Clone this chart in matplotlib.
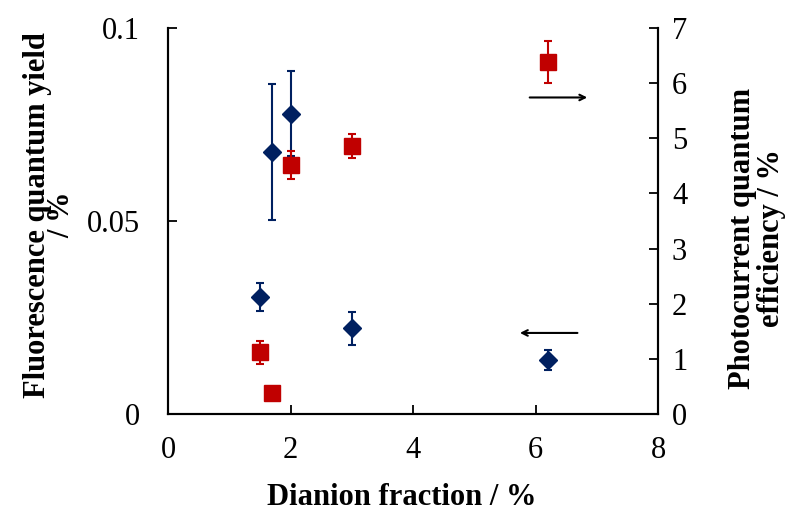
import matplotlib.pyplot as plt

plt.rcParams['font.family'] = ['Liberation Serif', 'DejaVu Serif']

# dianion fraction / %
frac = [1.5, 1.7, 2.0, 3.0, 6.2]

# fluorescence quantum yield (left axis)
fqy = [0.0303, 0.0679, 0.0778, 0.0222, 0.0140]
fqy_err = [0.0036, 0.0176, 0.0110, 0.0043, 0.0026]

# photocurrent quantum efficiency (right axis)
pqe = [1.12, 0.38, 4.52, 4.86, 6.38]
pqe_err = [0.21, 0.0, 0.25, 0.22, 0.38]

navy = '#002060'
red = '#C00000'

fig = plt.figure(figsize=(7.9, 5.16), dpi=100)
ax = fig.add_axes([168 / 790, 1 - 414 / 516, 490 / 790, 386 / 516])
ax2 = ax.twinx()

ax.errorbar(frac, fqy, yerr=fqy_err, fmt='D', color=navy, ms=9.5,
            elinewidth=1.5, capsize=3, capthick=1.5, zorder=3)
ax2.errorbar(frac, pqe, yerr=pqe_err, fmt='s', color=red, ms=12,
             elinewidth=1.5, capsize=3, capthick=1.5, zorder=3)

ax.set_xlim(0, 8)
ax.set_ylim(0, 0.1)
ax2.set_ylim(0, 7)
ax.set_xticks([0, 2, 4, 6, 8])
ax.set_yticks([0, 0.05, 0.1])
ax.set_yticklabels(['0', '0.05', '0.1'])
ax2.set_yticks(range(8))

for a in (ax, ax2):
    a.spines['top'].set_visible(False)
    for s in a.spines.values():
        s.set_linewidth(1.5)
    a.tick_params(direction='in', length=6.5, width=1.3, labelsize=22)
ax.tick_params(axis='y', pad=20)
ax.tick_params(axis='x', pad=16)
ax2.tick_params(axis='y', pad=10)

ax.set_xlabel('Dianion fraction / %', fontsize=22, fontweight='bold')
ax.set_ylabel('Fluorescence quantum yield\n/ %', fontsize=22, fontweight='bold',
              linespacing=0.75)
ax2.set_ylabel('Photocurrent quantum\nefficiency / %', fontsize=22, fontweight='bold',
               linespacing=1.0)
ax.xaxis.set_label_coords(0.478, -0.18)
ax.yaxis.set_label_coords(-0.188, 0.516)
ax2.yaxis.set_label_coords(1.143, 0.456)

# arrows pointing each series to its axis
ax.annotate('', xy=(6.89, 0.0820), xytext=(5.86, 0.0820),
            arrowprops=dict(arrowstyle='->', color='black', lw=1.5))
ax.annotate('', xy=(5.70, 0.0210), xytext=(6.73, 0.0210),
            arrowprops=dict(arrowstyle='->', color='black', lw=1.5))

fig.savefig('out.png', dpi=100)
